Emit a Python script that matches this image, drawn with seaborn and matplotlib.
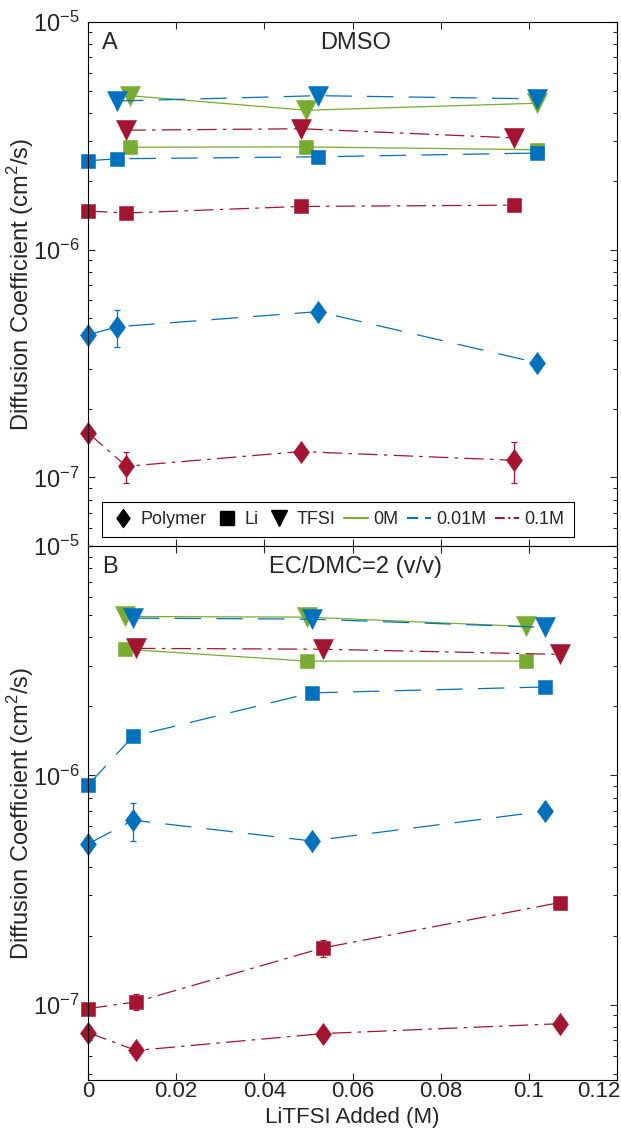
import numpy as np
import seaborn as sns
import matplotlib.pyplot as plt
import matplotlib.transforms as mtransforms
from matplotlib.lines import Line2D
from matplotlib.ticker import LogLocator, NullFormatter

# ---- panel A : DMSO ----
x_dmso_0M = [0.0095, 0.0495, 0.1019]
li_dmso_0M = [2.82e-6, 2.83e-6, 2.75e-6]
tfsi_dmso_0M = [4.75e-6, 4.10e-6, 4.40e-6]

x_dmso_001 = [0.0, 0.0066, 0.0522, 0.1019]
poly_dmso_001 = [4.23e-7, 4.59e-7, 5.35e-7, 3.19e-7]
poly_dmso_001_err = [0.2e-7, 0.85e-7, 0.2e-7, 0.15e-7]
li_dmso_001 = [2.46e-6, 2.51e-6, 2.56e-6, 2.66e-6]
tfsi_dmso_001 = [np.nan, 4.50e-6, 4.75e-6, 4.60e-6]

x_dmso_01 = [0.0, 0.0087, 0.0483, 0.0966]
poly_dmso_01 = [1.57e-7, 1.12e-7, 1.30e-7, 1.19e-7]
poly_dmso_01_err = [0.1e-7, 0.17e-7, 0.05e-7, 0.24e-7]
li_dmso_01 = [1.48e-6, 1.45e-6, 1.55e-6, 1.57e-6]
tfsi_dmso_01 = [np.nan, 3.35e-6, 3.40e-6, 3.10e-6]

# ---- panel B : EC/DMC ----
x_ec_0M = [0.0083, 0.0497, 0.0994]
li_ec_0M = [3.55e-6, 3.15e-6, 3.15e-6]
tfsi_ec_0M = [4.93e-6, 4.90e-6, 4.46e-6]

x_ec_001 = [0.0, 0.0102, 0.0507, 0.1036]
poly_ec_001 = [5.02e-7, 6.38e-7, 5.18e-7, 6.98e-7]
poly_ec_001_err = [0.25e-7, 1.2e-7, 0.25e-7, 0.2e-7]
li_ec_001 = [9.06e-7, 1.48e-6, 2.29e-6, 2.43e-6]
tfsi_ec_001 = [np.nan, 4.85e-6, 4.80e-6, 4.42e-6]

x_ec_01 = [0.0, 0.0109, 0.0533, 0.107]
poly_ec_01 = [7.57e-8, 6.32e-8, 7.49e-8, 8.27e-8]
li_ec_01 = [9.62e-8, 1.03e-7, 1.77e-7, 2.79e-7]
li_ec_01_err = [0.05e-7, 0.08e-7, 0.15e-7, 0.05e-7]
tfsi_ec_01 = [np.nan, 3.58e-6, 3.55e-6, 3.37e-6]

green = '#77AC30'
blue = '#0072BD'
red = '#A2142F'

sns.set_style('ticks')
plt.rcParams['font.family'] = ['Liberation Sans', 'DejaVu Sans']
plt.rcParams['mathtext.fontset'] = 'custom'
plt.rcParams['mathtext.rm'] = 'Liberation Sans'
plt.rcParams['lines.scale_dashes'] = False

ls_0M = '-'
ls_001 = (0, (19, 11))
ls_01 = (0, (14, 4.5, 2.5, 4.5))
diamond = [(0, 1), (0.72, 0), (0, -1), (-0.72, 0), (0, 1)]

fig = plt.figure(figsize=(6.21, 11.31), dpi=100)
axA = fig.add_axes([0.1417, 0.5172, 0.8519, 0.4633])
axB = fig.add_axes([0.1417, 0.0451, 0.8519, 0.4721])


def draw(ax, x, y, color, ls, marker, ms, err=None):
    sns.lineplot(x=x, y=y, ax=ax, color=color, linestyle=ls, linewidth=0.9,
                 marker=marker, markersize=ms, markeredgecolor=color,
                 markeredgewidth=0.4, errorbar=None, sort=False, clip_on=False)
    if err is not None:
        ax.errorbar(x, y, yerr=err, fmt='none', ecolor=color, elinewidth=0.9,
                    capsize=2.5, capthick=0.9, clip_on=False)


for ax in (axA, axB):
    ax.set_yscale('log')

# panel A
draw(axA, x_dmso_0M, li_dmso_0M, green, ls_0M, 's', 10)
draw(axA, x_dmso_0M, tfsi_dmso_0M, green, ls_0M, 'v', 14)
draw(axA, x_dmso_001, poly_dmso_001, blue, ls_001, diamond, 16, poly_dmso_001_err)
draw(axA, x_dmso_001, li_dmso_001, blue, ls_001, 's', 10)
draw(axA, x_dmso_001, tfsi_dmso_001, blue, ls_001, 'v', 14)
draw(axA, x_dmso_01, poly_dmso_01, red, ls_01, diamond, 16, poly_dmso_01_err)
draw(axA, x_dmso_01, li_dmso_01, red, ls_01, 's', 10)
draw(axA, x_dmso_01, tfsi_dmso_01, red, ls_01, 'v', 14)

# panel B
draw(axB, x_ec_0M, li_ec_0M, green, ls_0M, 's', 10)
draw(axB, x_ec_0M, tfsi_ec_0M, green, ls_0M, 'v', 14)
draw(axB, x_ec_001, poly_ec_001, blue, ls_001, diamond, 16, poly_ec_001_err)
draw(axB, x_ec_001, li_ec_001, blue, ls_001, 's', 10)
draw(axB, x_ec_001, tfsi_ec_001, blue, ls_001, 'v', 14)
draw(axB, x_ec_01, poly_ec_01, red, ls_01, diamond, 16)
draw(axB, x_ec_01, li_ec_01, red, ls_01, 's', 10, li_ec_01_err)
draw(axB, x_ec_01, tfsi_ec_01, red, ls_01, 'v', 14)

xticks = [0, 0.02, 0.04, 0.06, 0.08, 0.1, 0.12]
xticklabels = ['0', '0.02', '0.04', '0.06', '0.08', '0.1', '0.12']

for ax, ylo in ((axA, 5e-8), (axB, 4.7e-8)):
    ax.set_xlim(0, 0.12)
    ax.set_ylim(ylo, 1e-5)
    ax.set_xticks(xticks)
    ax.set_xticklabels(xticklabels)
    ax.yaxis.set_major_locator(LogLocator(base=10, numticks=10))
    ax.yaxis.set_minor_locator(LogLocator(base=10, subs=np.arange(2, 10), numticks=20))
    ax.yaxis.set_minor_formatter(NullFormatter())
    ax.tick_params(which='both', direction='in', top=True, right=True,
                   width=0.8, labelsize=17)
    ax.tick_params(which='major', length=5, pad=6)
    ax.tick_params(which='minor', length=3)
    ax.tick_params(axis='x', pad=1, labelsize=16)
    for s in ax.spines.values():
        s.set_linewidth(0.8)
        s.set_color('black')
    ax.set_xlabel('')
    ax.set_ylabel('Diffusion Coefficient (cm$^2$/s)', fontsize=17)
    ax.yaxis.set_label_coords(-0.098, 0.5)

axA.tick_params(labelbottom=False)
axB.set_xlabel('LiTFSI Added (M)', fontsize=16)
axB.xaxis.set_label_coords(0.5, -0.050)
last = axB.get_xticklabels()[-1]
last.set_ha('right')
last.set_transform(last.get_transform() + mtransforms.ScaledTranslation(3 / 100, 0, fig.dpi_scale_trans))

axA.text(0.027, 0.96, 'A', transform=axA.transAxes, fontsize=17, va='center', ha='left')
axA.text(0.505, 0.96, 'DMSO', transform=axA.transAxes, fontsize=17, va='center', ha='center')
axB.text(0.027, 0.961, 'B', transform=axB.transAxes, fontsize=17, va='center', ha='left')
axB.text(0.505, 0.961, 'EC/DMC=2 (v/v)', transform=axB.transAxes, fontsize=17, va='center', ha='center')

handles = [
    Line2D([], [], color='black', marker=diamond, markersize=13, linestyle='none'),
    Line2D([], [], color='black', marker='s', markersize=9.5, linestyle='none'),
    Line2D([], [], color='black', marker='v', markersize=12, linestyle='none'),
    Line2D([], [], color=green, linestyle=ls_0M, linewidth=1.5),
    Line2D([], [], color=blue, linestyle=(0, (8, 5)), linewidth=1.5),
    Line2D([], [], color=red, linestyle=(0, (7, 2.5, 1.5, 2.5)), linewidth=1.5),
]
labels = ['Polymer', 'Li', 'TFSI', '0M', '0.01M', '0.1M']
leg = axA.legend(handles, labels, loc='lower left', bbox_to_anchor=(0.026, 0.017),
                 ncol=6, fontsize=13, handlelength=1.35, handletextpad=0.3,
                 columnspacing=0.45, borderpad=0.5, borderaxespad=0,
                 fancybox=False, framealpha=1, edgecolor='black')
leg.get_frame().set_linewidth(0.8)

fig.savefig('out.png', dpi=100)
